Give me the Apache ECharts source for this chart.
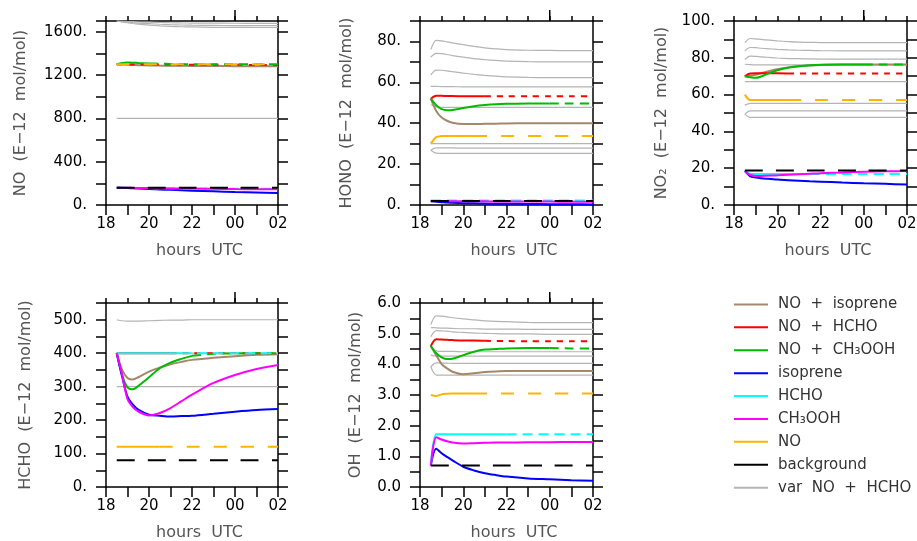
<!DOCTYPE html>
<html><head><meta charset="utf-8">
<script src="https://cdn.jsdelivr.net/npm/echarts/dist/echarts.min.js"></script>
<style>html,body{margin:0;padding:0;background:#fff}#c{width:917px;height:541px}</style>
</head><body><div id="c"></div>
<script>
// ---------------- DATA ----------------
const hours = [18.5, 18.75, 19, 19.25, 19.5, 20, 20.5, 21, 21.5, 22, 23, 24, 25, 26];
const xTickLabels = {18:'18', 20:'20', 22:'22', 24:'00', 26:'02'};
const midnight = 24;

// NO panel
const no_NOisop = [1300,1298,1296,1294,1292,1290,1288,1287,1286,1285,1284,1283,1282,1281];
const no_NOhcho = [1300,1300,1299,1299,1298,1298,1297,1297,1296,1296,1295,1295,1294,1294];
const no_NOch3  = [1300,1312,1316,1315,1312,1308,1305,1303,1302,1301,1300,1300,1300,1300];
const no_isop   = [160,158,156,154,152,148,144,140,136,132,126,120,115,110];
const no_hcho   = [160,159,158,158,157,156,155,154,154,153,152,151,150,150];
const no_ch3    = [160,160,159,158,157,156,154,153,152,151,149,147,146,145];
const no_no     = [1300,1300,1300,1300,1300,1300,1300,1300,1300,1300,1300,1300,1300,1300];
const no_bg     = [160,160,160,160,160,160,160,160,160,160,160,160,160,160];
const no_var1   = [1700,1698,1696,1694,1692,1689,1686,1684,1682,1681,1680,1679,1678,1678];
const no_var2   = [1700,1695,1690,1685,1681,1675,1670,1666,1663,1661,1659,1658,1658,1658];
const no_var3   = [1700,1692,1684,1677,1671,1662,1655,1650,1647,1645,1642,1641,1640,1640];
const no_var4   = [1300,1298,1296,1294,1292,1290,1288,1286,1285,1284,1283,1282,1281,1280];
const no_var5   = [800,800,800,800,800,800,800,800,800,800,800,800,800,800];

// HONO panel
const hono_NOisop = [52,46,42.8,41.2,40.2,39.6,39.6,39.7,39.8,39.9,40,40,40,40];
const hono_NOhcho = [52,53.4,53.4,53.3,53.3,53.2,53.2,53.2,53.2,53.2,53.2,53.2,53.2,53.2];
const hono_NOch3  = [52,48.8,46.9,46.4,46.5,47.4,48.3,48.9,49.3,49.5,49.7,49.7,49.6,49.6];
const hono_isop   = [1.8,1.6,1.4,1.2,1.1,0.9,0.8,0.7,0.6,0.6,0.5,0.4,0.4,0.3];
const hono_hcho   = [2.2,2.2,2.2,2.2,2.2,2.2,2.2,2.2,2.2,2.2,2.2,2.2,2.2,2.2];
const hono_ch3    = [1.8,1.9,1.9,1.9,1.8,1.8,1.8,1.8,1.7,1.7,1.7,1.7,1.6,1.6];
const hono_no     = [30,33.2,33.7,33.8,33.8,33.8,33.8,33.8,33.8,33.8,33.8,33.8,33.8,33.8];
const hono_bg     = [2,2,2,2,2,2,2,2,2,2,2,2,2,2];
const hono_var1   = [76,80.5,80.3,79.8,79.3,78.4,77.6,76.9,76.4,76,75.7,75.6,75.5,75.5];
const hono_var2   = [72.4,74.2,74,73.6,73.1,72.3,71.6,71.1,70.7,70.4,70.1,70,70,70];
const hono_var3   = [63.6,66,65.9,65.6,65.2,64.5,63.9,63.4,63,62.7,62.4,62.3,62.3,62.3];
const hono_var4   = [58,58,57.9,57.9,57.9,57.8,57.8,57.8,57.8,57.8,57.8,57.8,57.8,57.8];
const hono_var5   = [49,48,47.8,47.8,47.8,47.8,47.8,47.8,47.8,47.8,47.8,47.8,47.8,47.8];
const hono_var6   = [30,30,30,30,30,30,30,30,30,30,30,30,30,30];
const hono_var7   = [26.8,27.9,27.9,27.9,27.9,27.8,27.8,27.8,27.8,27.8,27.8,27.8,27.8,27.8];
const hono_var8   = [26.8,25.4,25.3,25.3,25.3,25.3,25.3,25.3,25.3,25.3,25.3,25.3,25.3,25.3];

// NO2 panel
const no2_NOisop = [70,70.3,70.8,71.6,72.4,73.8,74.8,75.4,75.8,76.1,76.3,76.3,76.3,76.3];
const no2_NOhcho = [70,71.5,71.6,71.6,71.6,71.6,71.5,71.5,71.5,71.5,71.5,71.5,71.5,71.5];
const no2_NOch3  = [70,69.4,69.1,69.8,71,73.2,74.6,75.4,75.9,76.2,76.3,76.3,76.3,76.3];
const no2_isop   = [18.5,15.6,15,14.6,14.3,13.8,13.5,13.2,12.9,12.7,12.2,11.8,11.5,11.1];
const no2_hcho   = [18.5,17,16.9,16.9,16.9,16.9,16.9,16.9,16.9,16.9,16.9,16.9,16.9,16.9];
const no2_ch3    = [18.5,16.3,15.8,15.8,15.9,16.1,16.4,16.7,17,17.3,17.7,18.1,18.3,18.5];
const no2_no     = [60,57,57,57,57,57,57,57,57,57,57,57,57,57];
const no2_bg     = [18.7,18.7,18.7,18.7,18.7,18.7,18.7,18.7,18.7,18.7,18.7,18.7,18.7,18.7];
const no2_var1   = [88.2,90.5,90.3,90,89.7,89.2,88.8,88.5,88.4,88.3,88.2,88.2,88.2,88.2];
const no2_var2   = [83.8,85.6,85.5,85.2,85,84.6,84.3,84.1,84,83.9,83.8,83.8,83.8,83.8];
const no2_var3   = [79.1,80.9,80.8,80.5,80.3,79.9,79.6,79.5,79.4,79.3,79.3,79.3,79.3,79.3];
const no2_var4   = [76.5,76.3,76.2,76.2,76.2,76.2,76.2,76.2,76.2,76.2,76.2,76.2,76.2,76.2];
const no2_var5   = [67,67,67,67,67,67,67,67,67,67,67,67,67,67];
const no2_var6   = [54.3,55.2,55.2,55.2,55.2,55.2,55.2,55.2,55.2,55.2,55.2,55.2,55.2,55.2];
const no2_var7   = [49.4,51.2,51.2,51.2,51.2,51.2,51.2,51.2,51.2,51.2,51.2,51.2,51.2,51.2];
const no2_var8   = [49.4,47.6,47.6,47.6,47.6,47.6,47.6,47.6,47.6,47.6,47.6,47.6,47.6,47.6];

// HCHO panel
const hcho_NOisop = [400,350,326,321,328,345,357,367,374,380,386,391,395,397];
const hcho_NOhcho = [400,400,400,400,400,400,400,400,400,400,400,400,400,400];
const hcho_NOch3  = [400,335,298,292,302,328,355,372,383,392,398,399,400,400];
const hcho_isop   = [400,330,270,246,231,216,213,211,212,213,219,225,230,233];
const hcho_hcho   = [400,400,400,400,400,400,400,400,400,400,400,400,400,400];
const hcho_ch3    = [400,335,263,239,226,214,221,236,256,276,311,335,353,365];
const hcho_no     = [120,120,120,120,120,120,120,120,120,120,120,120,120,120];
const hcho_bg     = [80,80,80,80,80,80,80,80,80,80,80,80,80,80];
const hcho_var1   = [500,497,496,496,496,497,498,499,499,500,500,500,500,500];
const hcho_var2   = [400,400,400,400,400,400,400,400,400,400,400,400,400,400];
const hcho_var3   = [300,300,300,300,300,300,300,300,300,300,300,300,300,300];

// OH panel
const oh_NOisop = [4.6,4.3,4.01,3.87,3.76,3.68,3.71,3.75,3.77,3.78,3.78,3.78,3.78,3.78];
const oh_NOhcho = [4.6,4.82,4.81,4.8,4.79,4.78,4.78,4.77,4.76,4.76,4.75,4.75,4.75,4.75];
const oh_NOch3  = [4.6,4.36,4.23,4.17,4.18,4.3,4.41,4.48,4.5,4.52,4.53,4.53,4.52,4.52];
const oh_isop   = [0.7,1.25,1.1,0.98,0.87,0.66,0.54,0.45,0.39,0.34,0.28,0.25,0.22,0.2];
const oh_hcho   = [0.7,1.72,1.72,1.72,1.72,1.72,1.72,1.72,1.72,1.72,1.72,1.72,1.72,1.72];
const oh_ch3    = [0.7,1.62,1.55,1.49,1.45,1.42,1.43,1.44,1.45,1.45,1.46,1.46,1.47,1.47];
const oh_no     = [3.0,2.97,3.02,3.04,3.05,3.05,3.05,3.05,3.05,3.05,3.05,3.05,3.05,3.05];
const oh_bg     = [0.7,0.7,0.7,0.7,0.7,0.7,0.7,0.7,0.7,0.7,0.7,0.7,0.7,0.7];
const oh_var1   = [5.3,5.58,5.57,5.55,5.52,5.48,5.45,5.42,5.4,5.39,5.37,5.36,5.36,5.36];
const oh_var2   = [5.2,5.19,5.18,5.18,5.17,5.16,5.16,5.15,5.15,5.15,5.14,5.14,5.14,5.14];
const oh_var3   = [4.9,5.1,5.09,5.08,5.06,5.04,5.02,5.01,5.0,4.99,4.99,4.98,4.98,4.98];
const oh_var4   = [4.55,4.44,4.42,4.42,4.42,4.41,4.41,4.41,4.41,4.41,4.41,4.41,4.41,4.41];
const oh_var5   = [4.3,4.27,4.27,4.27,4.27,4.27,4.27,4.27,4.27,4.27,4.27,4.27,4.27,4.27];
const oh_var6   = [3.92,4.05,4.04,4.04,4.03,4.03,4.03,4.03,4.03,4.03,4.03,4.03,4.03,4.03];
const oh_var7   = [3.92,3.65,3.65,3.65,3.65,3.65,3.65,3.65,3.65,3.65,3.65,3.65,3.65,3.65];

// ---------------- NAMES & STYLES ----------------
const N_ISO = 'NO  +  isoprene', N_HC = 'NO  +  HCHO', N_CH = 'NO  +  CH₃OOH',
      ISO = 'isoprene', HC = 'HCHO', CH = 'CH₃OOH', NO = 'NO', BG = 'background', VAR = 'var  NO  +  HCHO';
const legendNames = [N_ISO, N_HC, N_CH, ISO, HC, CH, NO, BG, VAR];

const STYLE = {};
STYLE[N_ISO] = {color:'#A5876B', width:2, dash:null};
STYLE[N_HC]  = {color:'#FF0000', width:2, dash:[6,6]};
STYLE[N_CH]  = {color:'#00BB00', width:2, dash:[9,6]};
STYLE[ISO]   = {color:'#0000FF', width:2, dash:null};
STYLE[HC]    = {color:'#00FFFF', width:2, dash:[10,6]};
STYLE[CH]    = {color:'#FF00FF', width:2, dash:null};
STYLE[NO]    = {color:'#FFB400', width:2, dash:[13,14]};
STYLE[BG]    = {color:'#000000', width:2, dash:[18,13]};
STYLE[VAR]   = {color:'#B4B4B4', width:1.2, dash:null};

const FONT = 'DejaVu Sans';

const panels = [
  {grid:{left:106, top:21, width:172, height:184}, max:1700, step:200, lab:400, dec:0,
   name:'NO  (E−12  mol/mol)', gap:77,
   lines:[[N_ISO,no_NOisop,null],[N_HC,no_NOhcho,18.5],[N_CH,no_NOch3,20],[ISO,no_isop,null],
          [HC,no_hcho,20],[CH,no_ch3,null],[NO,no_no,18.5],[BG,no_bg,18.5]],
   gray:[no_var1,no_var2,no_var3,no_var4,no_var5]},
  {grid:{left:420, top:21, width:173, height:184}, max:90, step:10, lab:20, dec:0,
   name:'HONO  (E−12  mol/mol)', gap:65,
   lines:[[N_ISO,hono_NOisop,null],[N_HC,hono_NOhcho,21],[N_CH,hono_NOch3,24],[ISO,hono_isop,null],
          [HC,hono_hcho,18.5],[CH,hono_ch3,null],[NO,hono_no,20.5],[BG,hono_bg,18.5]],
   gray:[hono_var1,hono_var2,hono_var3,hono_var4,hono_var5,hono_var6,hono_var7,hono_var8]},
  {grid:{left:734, top:21, width:173, height:184}, max:100, step:10, lab:20, dec:0,
   name:'NO₂  (E−12  mol/mol)', gap:64,
   lines:[[N_ISO,no2_NOisop,null],[N_HC,no2_NOhcho,20.5],[N_CH,no2_NOch3,24],[ISO,no2_isop,null],
          [HC,no2_hcho,21.5],[CH,no2_ch3,null],[NO,no2_no,20.5],[BG,no2_bg,18.5]],
   gray:[no2_var1,no2_var2,no2_var3,no2_var4,no2_var5,no2_var6,no2_var7,no2_var8]},
  {grid:{left:106, top:303, width:172, height:184}, max:550, step:50, lab:100, dec:0,
   name:'HCHO  (E−12  mol/mol)', gap:72,
   lines:[[N_ISO,hcho_NOisop,null],[N_HC,hcho_NOhcho,21],[N_CH,hcho_NOch3,22],[ISO,hcho_isop,null],
          [HC,hcho_hcho,21.5],[CH,hcho_ch3,null],[NO,hcho_no,20.5],[BG,hcho_bg,18.5]],
   gray:[hcho_var1,hcho_var2,hcho_var3]},
  {grid:{left:420, top:303, width:173, height:184}, max:6, step:0.5, lab:1, dec:1,
   name:'OH  (E−12  mol/mol)', gap:56,
   lines:[[N_ISO,oh_NOisop,null],[N_HC,oh_NOhcho,21],[N_CH,oh_NOch3,24],[ISO,oh_isop,null],
          [HC,oh_hcho,22],[CH,oh_ch3,null],[NO,oh_no,20.5],[BG,oh_bg,18.5]],
   gray:[oh_var1,oh_var2,oh_var3,oh_var4,oh_var5,oh_var6,oh_var7]}
];

// ---------------- BUILD ----------------
const AX = {color:'#000', width:1.5};
const grids = [], xAxes = [], yAxes = [], series = [];

function makeSeries(pi, name, data, dashFrom) {
  const st = STYLE[name];
  const pts = hours.map((h, i) => [h, data[i]]);
  const base = {type:'line', name, xAxisIndex:pi*2, yAxisIndex:pi*2, symbol:'none', smooth:0.3,
                silent:true, animation:false, color:st.color, itemStyle:{color:st.color}};
  if (!st.dash || dashFrom == null) {
    return [Object.assign({}, base, {data:pts, lineStyle:{color:st.color, width:st.width, type:'solid'}})];
  }
  const solid = pts.filter(p => p[0] <= dashFrom);
  const dashed = pts.filter(p => p[0] >= dashFrom);
  const out = [];
  if (solid.length > 1) out.push(Object.assign({}, base, {data:solid, lineStyle:{color:st.color, width:st.width, type:'solid'}}));
  out.push(Object.assign({}, base, {data:dashed, lineStyle:{color:st.color, width:st.width, type:st.dash}}));
  return out;
}

panels.forEach((p, pi) => {
  grids.push(Object.assign({outerBoundsMode:'none', containLabel:false}, p.grid));
  xAxes.push({type:'value', gridIndex:pi, position:'bottom', min:18, max:26, interval:1,
    axisLine:{onZero:false, lineStyle:AX}, splitLine:{show:false},
    axisTick:{show:true, inside:false, length:10, lineStyle:AX},
    axisLabel:{margin:12, color:'#000', fontFamily:FONT, fontSize:15,
      formatter: v => (xTickLabels[v] !== undefined ? xTickLabels[v] : '')},
    name:'hours  UTC', nameLocation:'middle', nameGap:38,
    nameTextStyle:{fontFamily:FONT, fontSize:16, color:'#555', padding:[0,0,0,15]}});
  xAxes.push({type:'value', gridIndex:pi, position:'top', min:18, max:26, interval:1,
    axisLine:{onZero:false, lineStyle:AX}, splitLine:{show:false},
    axisTick:{show:true, inside:false, length:5, lineStyle:AX}, axisLabel:{show:false}});
  const fmt = v => {
    const r = v / p.lab;
    if (Math.abs(r - Math.round(r)) > 1e-9) return '';
    return p.dec ? v.toFixed(p.dec) : (Math.round(v) + '.');
  };
  yAxes.push({type:'value', gridIndex:pi, position:'left', min:0, max:p.max, interval:p.step,
    axisLine:{show:true, onZero:false, lineStyle:AX}, splitLine:{show:false},
    axisTick:{show:true, inside:false, length:10, lineStyle:AX},
    axisLabel:{margin:19, color:'#000', fontFamily:FONT, fontSize:15, formatter:fmt},
    name:p.name, nameLocation:'middle', nameGap:p.gap,
    nameTextStyle:{fontFamily:FONT, fontSize:16, color:'#555'}});
  yAxes.push({type:'value', gridIndex:pi, position:'right', min:0, max:p.max, interval:p.step,
    axisLine:{show:true, onZero:false, lineStyle:AX}, splitLine:{show:false},
    axisTick:{show:true, inside:false, length:10, lineStyle:AX}, axisLabel:{show:false}});
  p.gray.forEach(g => series.push(...makeSeries(pi, VAR, g, null)));
  p.lines.forEach(l => series.push(...makeSeries(pi, l[0], l[1], l[2])));
});

const chart = echarts.init(document.getElementById('c'), null, {renderer:'canvas'});
chart.setOption({
  animation:false,
  backgroundColor:'#fff',
  grid:grids, xAxis:xAxes, yAxis:yAxes, series:series,
  legend:{orient:'vertical', left:734, top:293, padding:0, itemWidth:34, itemHeight:2, itemGap:0, icon:'rect',
    selectedMode:false, data:legendNames,
    textStyle:{fontFamily:FONT, fontSize:15, color:'#333', lineHeight:22.9, padding:[0,0,0,5]}}
});

// longer tick on the top axis at midnight, placed through the grid's own coordinate system
const midTicks = panels.map((p, pi) => {
  const pt = chart.convertToPixel({gridIndex:pi}, [midnight, p.max]);
  return {type:'line', silent:true, shape:{x1:pt[0], y1:pt[1], x2:pt[0], y2:pt[1] - 11},
          style:{stroke:'#000', lineWidth:1.5}};
});
chart.setOption({graphic:midTicks});
</script></body></html>
